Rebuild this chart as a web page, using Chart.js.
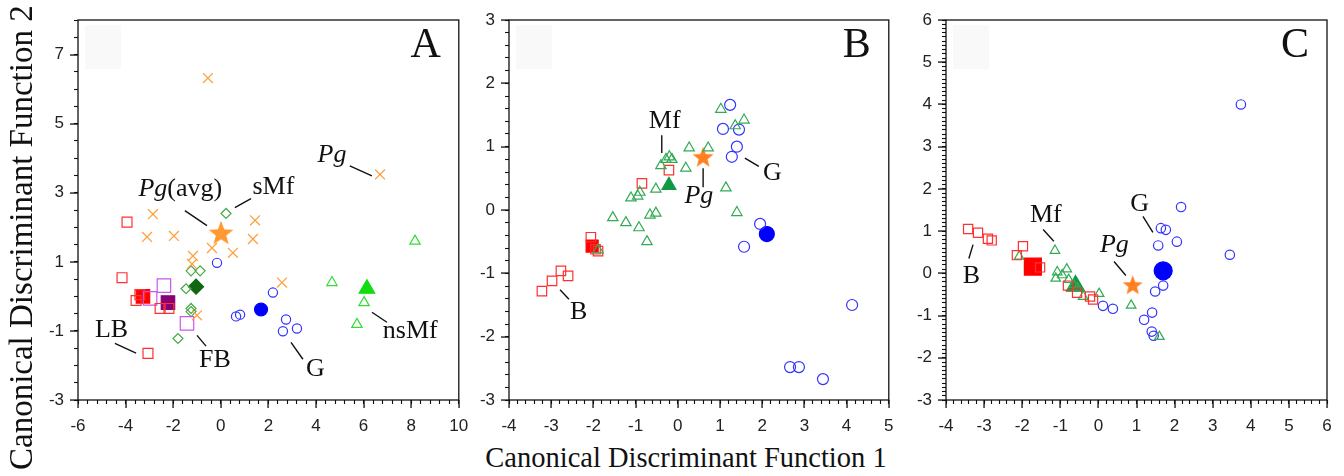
<!DOCTYPE html>
<html>
<head>
<meta charset="utf-8">
<script src="https://cdn.jsdelivr.net/npm/chart.js@4.4.0/dist/chart.umd.min.js"></script>
<style>
  body { margin: 0; background: #fff; width: 1344px; height: 476px; position: relative; overflow: hidden; }
  canvas { position: absolute; top: 0; }
  .title { position: absolute; font-family: "Liberation Serif", "Times New Roman", serif; color: #111; white-space: nowrap; line-height: 1; }
  #xTitle { left: 686px; top: 444px; font-size: 28.5px; transform: translateX(-50%); }
  #yTitle { left: 5px; top: 470px; font-size: 33px; transform-origin: 0 0; transform: rotate(-90deg); }
</style>
</head>
<body>
<canvas id="chartA" width="440" height="440" style="left:30px"></canvas>
<canvas id="chartB" width="430" height="440" style="left:470px"></canvas>
<canvas id="chartC" width="444" height="440" style="left:900px"></canvas>
<div class="title" id="yTitle">Canonical Discriminant Function 2</div>
<div class="title" id="xTitle">Canonical Discriminant Function 1</div>
<script>
// ---- panel A ----
const aXTicks = [-6, -4, -2, 0, 2, 4, 6, 8, 10];
const aYTicks = [-3, -1, 1, 3, 5, 7];
const aLB = [[-3.94, 2.15], [-4.15, 0.54], [-3.56, -0.12], [-2.55, -0.35], [-2.18, -0.35], [-3.06, -1.65], [-3.4, 0.05]];
const aLBavg = [[-3.27, 0.0]];
const aFB = [[-2.39, 0.31], [-2.97, -0.06], [-1.42, -0.78]];
const aFBavg = [[-2.22, -0.18]];
const aSMf = [[0.22, 2.4], [-1.25, 0.74], [-0.87, 0.74], [-1.46, 0.22], [-1.25, -0.35], [-1.25, -0.44], [-1.8, -1.22]];
const aSMfAvg = [[-1.04, 0.28]];
const aPg = [[-0.54, 6.32], [6.69, 3.53], [-2.85, 2.38], [1.44, 2.2], [-3.1, 1.72], [-1.97, 1.75], [1.35, 1.66],
  [-0.37, 1.4], [0.51, 1.26], [-1.17, 1.17], [-1.21, 0.94], [2.57, 0.4], [-1.0, -0.55]];
const aPgAvg = [[0.01, 1.84]];
const aG = [[-0.16, 0.97], [2.19, 0.11], [0.64, -0.58], [0.81, -0.53], [2.74, -0.67], [2.61, -1.01], [3.2, -0.93]];
const aGavg = [[1.69, -0.38]];
const aNsMf = [[8.16, 1.6], [4.67, 0.4], [6.02, -0.18], [5.72, -0.81]];
const aNsMfAvg = [[6.14, 0.22]];

// ---- panel B ----
const bXTicks = [-4, -3, -2, -1, 0, 1, 2, 3, 4, 5];
const bYTicks = [-3, -2, -1, 0, 1, 2, 3];
const bB = [[-0.21, 0.63], [-0.85, 0.42], [-2.06, -0.43], [-1.89, -0.65], [-1.95, -0.62], [-3.22, -1.28],
  [-2.98, -1.12], [-2.77, -0.96], [-2.6, -1.04]];
const bBavg = [[-2.03, -0.57]];
const bMf = [[1.02, 1.59], [1.36, 1.33], [1.57, 1.42], [0.27, 0.98], [0.72, 0.98], [-0.28, 0.8], [-0.2, 0.84],
  [-0.14, 0.8], [-0.4, 0.7], [0.19, 0.66], [1.14, 0.35], [-0.52, 0.33], [-0.9, 0.28], [-0.95, 0.22], [-1.11, 0.19],
  [1.4, -0.04], [-1.54, -0.12], [-1.23, -0.2], [-0.66, -0.08], [-0.52, -0.05], [-0.92, -0.28], [-0.73, -0.5], [-1.89, -0.63]];
const bMfAvg = [[-0.21, 0.39]];
const bG = [[1.24, 1.66], [1.07, 1.28], [1.45, 1.27], [1.4, 1.0], [1.28, 0.84], [1.95, -0.22], [1.57, -0.58],
  [4.13, -1.5], [2.66, -2.48], [2.87, -2.48], [3.44, -2.67]];
const bGavg = [[2.11, -0.38]];
const bPg = [[0.6, 0.84]];

// ---- panel C ----
const cXTicks = [-4, -3, -2, -1, 0, 1, 2, 3, 4, 5, 6];
const cYTicks = [-3, -2, -1, 0, 1, 2, 3, 4, 5, 6];
const cB = [[-3.42, 1.05], [-3.16, 0.96], [-2.9, 0.82], [-2.8, 0.78], [-1.98, 0.64], [-2.14, 0.43], [-1.53, 0.14],
  [-0.8, -0.29], [-0.56, -0.46], [-0.22, -0.55], [-0.14, -0.62]];
const cBavg = [[-1.72, 0.16]];
const cMf = [[-1.14, 0.54], [-2.08, 0.4], [-1.08, 0.03], [-1.12, -0.12], [-0.83, 0.1], [-0.95, -0.04], [-0.78, -0.15],
  [-0.65, -0.27], [-0.55, -0.35], [-0.4, -0.55], [0.02, -0.48], [0.86, -0.76], [1.6, -1.5]];
const cMfAvg = [[-0.6, -0.3]];
const cG = [[3.74, 4.0], [2.17, 1.57], [1.64, 1.07], [1.77, 1.03], [2.06, 0.75], [1.57, 0.66], [3.45, 0.44],
  [1.7, -0.29], [1.49, -0.43], [0.12, -0.77], [0.38, -0.84], [1.41, -0.93], [1.2, -1.1], [1.4, -1.38], [1.45, -1.48]];
const cGavg = [[1.7, 0.06]];
const cPg = [[0.9, -0.27]];

const SERIF = '"Liberation Serif", "Times New Roman", serif';
const SANS = '"Liberation Sans", Arial, Helvetica, sans-serif';

// five point star as a point image
function makeStar(size, color) {
  const c = document.createElement('canvas');
  c.width = size; c.height = size;
  const g = c.getContext('2d');
  const R = size / 2, r = R * 0.42;
  g.beginPath();
  for (let i = 0; i < 10; i++) {
    const rad = i % 2 ? r : R;
    const ang = -Math.PI / 2 + i * Math.PI / 5;
    g.lineTo(R + rad * Math.cos(ang), R + 1 + rad * Math.sin(ang));
  }
  g.closePath();
  g.fillStyle = color;
  g.fill();
  return c;
}

function ds(pts, style, radius, color, filled, bw) {
  return {
    data: pts.map(p => ({ x: p[0], y: p[1] })),
    pointStyle: style,
    pointRadius: radius,
    pointBorderColor: color,
    pointBackgroundColor: filled ? color : 'rgba(0,0,0,0)',
    pointBorderWidth: bw || 1.2,
    showLine: false
  };
}

// all tick positions (minor + major) for an axis
function minorSteps(lo, hi, step) {
  const out = [];
  const n = Math.round((hi - lo) / step);
  for (let i = 0; i <= n; i++) out.push(Math.round((lo + i * step) * 1e6) / 1e6);
  return out;
}
const isMajor = (list, v) => list.some(t => Math.abs(t - v) < 1e-6);

// frame, longer major ticks, panel letter and the text labels
function deco(o) {
  return {
    id: 'deco' + o.letter,
    beforeDatasetsDraw(chart) {
      const { ctx, chartArea: a, scales: { x, y } } = chart;
      ctx.save();
      ctx.fillStyle = '#f9f9f9';
      ctx.fillRect(a.left + 7, a.top + 5, 36, 44);
      ctx.strokeStyle = '#111';
      ctx.lineWidth = 1.3;
      ctx.strokeRect(a.left, a.top, a.right - a.left, a.bottom - a.top);
      ctx.fillStyle = '#111';
      o.xTicks.forEach(t => {
        ctx.fillRect(Math.round(x.getPixelForValue(t)) - 0.6, a.bottom, 1.3, 8);
      });
      o.yTicks.forEach(t => {
        ctx.fillRect(a.left - 8, Math.round(y.getPixelForValue(t)) - 0.6, 8, 1.3);
      });
      ctx.restore();
    },
    afterDatasetsDraw(chart) {
      const { ctx, chartArea: a, scales: { x, y } } = chart;
      ctx.save();
      ctx.fillStyle = '#111';
      ctx.strokeStyle = '#111';
      ctx.lineWidth = 1.4;
      ctx.font = '42px ' + SERIF;
      ctx.textAlign = 'right';
      ctx.textBaseline = 'alphabetic';
      ctx.fillText(o.letter, a.right - 18, a.top + 37);
      ctx.textAlign = 'left';
      o.notes.forEach(nt => {
        const fonts = nt.parts.map(p => (p[1] ? 'italic ' : '') + '26px ' + SERIF);
        let w = 0;
        nt.parts.forEach((p, i) => { ctx.font = fonts[i]; w += ctx.measureText(p[0]).width; });
        let px = x.getPixelForValue(nt.x) - w / 2;
        const py = y.getPixelForValue(nt.y);
        nt.parts.forEach((p, i) => {
          ctx.font = fonts[i];
          ctx.fillText(p[0], px, py);
          px += ctx.measureText(p[0]).width;
        });
        if (nt.line) {
          ctx.beginPath();
          ctx.moveTo(x.getPixelForValue(nt.line[0]), y.getPixelForValue(nt.line[1]));
          ctx.lineTo(x.getPixelForValue(nt.line[2]), y.getPixelForValue(nt.line[3]));
          ctx.stroke();
        }
      });
      ctx.restore();
    }
  };
}

function makePanel(id, xr, yr, xTicks, yTicks, xMinor, yMinor, yWidth, padRight, letter, notes, datasets) {
  const tickGrid = { display: true, drawOnChartArea: false, drawTicks: true, tickLength: 4, tickColor: '#111', tickWidth: 1.1, color: '#111' };
  return new Chart(document.getElementById(id), {
    type: 'scatter',
    data: { datasets: datasets },
    plugins: [deco({ letter: letter, notes: notes, xTicks: xTicks, yTicks: yTicks })],
    options: {
      responsive: false,
      animation: false,
      events: [],
      layout: { padding: { top: 20, right: padRight, left: 0, bottom: 0 } },
      plugins: {
        legend: { display: false },
        tooltip: { enabled: false }
      },
      scales: {
        x: {
          type: 'linear', min: xr[0], max: xr[1],
          afterBuildTicks: s => { s.ticks = minorSteps(xr[0], xr[1], xMinor).map(v => ({ value: v })); },
          afterFit: s => { s.height = 40; s.paddingLeft = 0; s.paddingRight = 0; },
          grid: tickGrid,
          border: { display: false },
          ticks: {
            autoSkip: false, maxRotation: 0, padding: 12, color: '#222', font: { family: SANS, size: 17 },
            callback: v => isMajor(xTicks, v) ? String(Math.round(v)) : ''
          }
        },
        y: {
          type: 'linear', min: yr[0], max: yr[1],
          afterBuildTicks: s => { s.ticks = minorSteps(yr[0], yr[1], yMinor).map(v => ({ value: v })); },
          afterFit: s => { s.width = yWidth; s.paddingTop = 0; s.paddingBottom = 0; },
          grid: tickGrid,
          border: { display: false },
          ticks: {
            autoSkip: false, padding: 10, color: '#222', font: { family: SANS, size: 17 },
            callback: v => isMajor(yTicks, v) ? String(Math.round(v)) : ''
          }
        }
      }
    }
  });
}

const RED = '#ff3030', PURPLE = '#cc55ee', DGREEN = '#44aa44', ORANGE = '#ffa040',
  BLUE = '#3333ff', MGREEN = '#33aa55', LGREEN = '#33dd33';

makePanel('chartA', [-6, 10], [-3, 8], aXTicks, aYTicks, 0.4, 0.5, 48, 10, 'A', [
  { parts: [['Pg', true], ['(avg)', false]], x: -1.7, y: 2.91, line: [-1.51, 2.48, -0.58, 2.05] },
  { parts: [['sMf', false]], x: 2.21, y: 2.97, line: [0.59, 2.57, 1.27, 2.83] },
  { parts: [['Pg', true]], x: 4.67, y: 3.89, line: [5.42, 3.78, 6.35, 3.49] },
  { parts: [['LB', false]], x: -4.59, y: -1.18, line: [-4.45, -1.36, -3.56, -1.64] },
  { parts: [['FB', false]], x: -0.25, y: -2.05, line: [-1.0, -1.13, -0.62, -1.44] },
  { parts: [['G', false]], x: 3.97, y: -2.31, line: [2.95, -1.33, 3.45, -1.82] },
  { parts: [['nsMf', false]], x: 7.96, y: -1.21, line: [6.35, -0.46, 6.98, -0.75] }
], [
  ds(aPg, 'crossRot', 7, ORANGE, false, 1.3),
  ds(aLB, 'rect', 7, RED, false),
  ds(aFB, 'rect', 9.5, PURPLE, false),
  ds(aSMf, 'rectRot', 5, DGREEN, false),
  ds(aG, 'circle', 4.6, BLUE, false),
  ds(aNsMf, 'triangle', 6, LGREEN, false),
  ds(aLBavg, 'rect', 9.5, '#ff0000', true),
  ds(aFBavg, 'rect', 9.5, '#880077', true),
  ds(aSMfAvg, 'rectRot', 7.5, '#116611', true),
  ds(aGavg, 'circle', 6.5, '#0000ff', true),
  ds(aNsMfAvg, 'triangle', 9, '#11dd11', true),
  ds(aPgAvg, makeStar(26, '#ff9933'), 10, '#ff9933', true)
]);

makePanel('chartB', [-4, 5], [-3, 3], bXTicks, bYTicks, 0.2, 0.2, 39, 11, 'B', [
  { parts: [['Mf', false]], x: -0.31, y: 1.29, line: [-0.38, 1.18, -0.38, 0.9] },
  { parts: [['Pg', true]], x: 0.5, y: 0.11, line: [0.6, 0.66, 0.6, 0.36] },
  { parts: [['G', false]], x: 2.24, y: 0.47, line: [1.59, 0.82, 1.92, 0.69] },
  { parts: [['B', false]], x: -2.35, y: -1.72, line: [-2.79, -1.26, -2.58, -1.41] }
], [
  ds(bMf, 'triangle', 6, MGREEN, false),
  ds(bB, 'rect', 6.7, RED, false),
  ds(bG, 'circle', 5.5, BLUE, false),
  ds(bBavg, 'rect', 8.5, '#ff0000', true),
  ds(bMfAvg, 'triangle', 8, '#119944', true),
  ds(bGavg, 'circle', 7.5, '#0000ff', true),
  ds(bPg, makeStar(22, '#ff8020'), 10, '#ff8020', true)
]);

makePanel('chartC', [-4, 6], [-3, 6], cXTicks, cYTicks, 0.2, 0.1, 46, 17, 'C', [
  { parts: [['B', false]], x: -3.33, y: -0.24, line: [-3.29, 0.68, -3.4, 0.35] },
  { parts: [['Mf', false]], x: -1.38, y: 1.21, line: [-1.45, 1.04, -1.17, 0.76] },
  { parts: [['Pg', true]], x: 0.42, y: 0.5, line: [0.41, 0.28, 0.72, -0.05] },
  { parts: [['G', false]], x: 1.08, y: 1.47, line: [1.17, 1.35, 1.43, 0.97] }
], [
  ds(cB, 'rect', 6.5, RED, false),
  ds(cMf, 'triangle', 5.5, MGREEN, false),
  ds(cG, 'circle', 4.7, BLUE, false),
  ds(cBavg, 'rect', 12, '#ff0000', true),
  ds(cMfAvg, 'triangle', 10.5, '#119944', true),
  ds(cGavg, 'circle', 9, '#0000ff', true),
  ds(cPg, makeStar(21, '#ff8020'), 10, '#ff8020', true)
]);
</script>
</body>
</html>
